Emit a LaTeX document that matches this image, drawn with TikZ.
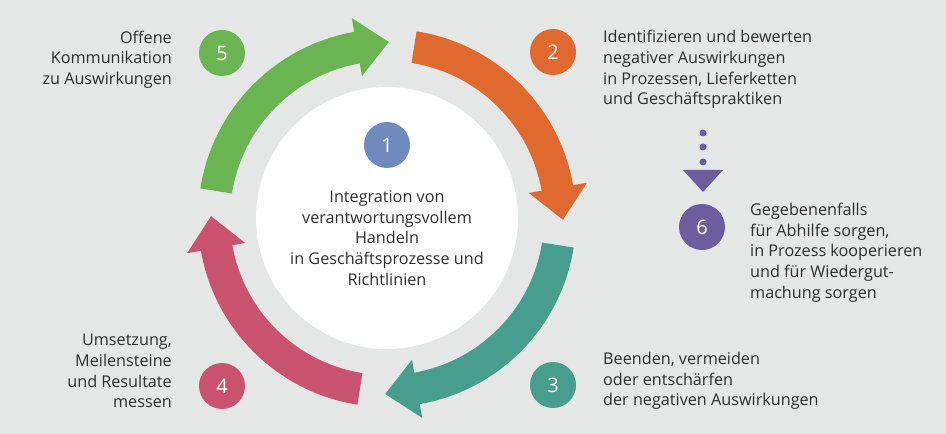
\documentclass[tikz,border=0pt]{standalone}
\usepackage{fontspec}
\setmainfont{Open Sans}
\definecolor{bgc}{HTML}{E5E6E6}
\definecolor{cgreen}{HTML}{6AB452}
\definecolor{corange}{HTML}{E0692F}
\definecolor{cteal}{HTML}{479D8E}
\definecolor{cpink}{HTML}{C9536F}
\definecolor{cblue}{HTML}{6F8BBE}
\definecolor{cpurple}{HTML}{6C5D9E}
\definecolor{ctext}{HTML}{2E2E2E}
\begin{document}
\begin{tikzpicture}[x=1pt,y=1pt,
  numc/.style={circle,fill=#1,minimum size=46pt,inner sep=0pt,text=white,font=\fontsize{20}{20}\selectfont},
  lbl/.style={inner sep=0pt,text=ctext,font=\fontsize{16.2}{20.7}\selectfont},
  lblL/.style={lbl,align=left,anchor=west},
  lblR/.style={lbl,align=right,anchor=east},
  dotc/.style={circle,fill=cpurple,minimum size=7pt,inner sep=0pt}]
\fill[bgc] (0,0) rectangle (946,434);
\useasboundingbox (0,0) rectangle (946,434);
\begin{scope}[shift={(387,216)}]
  \fill[white] (0,0) circle[radius=131];
  % arrows: tail angle t, head base b, tip b-10.6
  \foreach \t/\c in {81/corange,-9/cteal,-99/cpink,171/cgreen}{
    \pgfmathsetmacro{\b}{\t-71}
    \pgfmathsetmacro{\p}{\b-10.6}
    \fill[\c] (\t:189) arc[start angle=\t,end angle=\b,radius=189]
      -- (\b:203) -- (\p:176) -- (\b:144) -- (\b:157)
      arc[start angle=\b,end angle=\t,radius=157] -- cycle;
  }
\end{scope}
\node[numc=cblue] (n1) at (387,289) {1};
\node[numc=corange] (n2) at (553,382) {2};
\node[numc=cteal] (n3) at (553,49) {3};
\node[numc=cpink] (n4) at (222,48) {4};
\node[numc=cgreen] (n5) at (222,381) {5};
\node[numc=cpurple] (n6) at (702,207) {6};
\node[lbl,align=center] (t1) at (387,196) {Integration von\\verantwortungsvollem\\Handeln\\in Geschäftsprozesse und\\Richtlinien};
\node[lblL] (t2) at (603,364.5) {Identifizieren und bewerten\\negativer Auswirkungen\\in Prozessen, Lieferketten\\und Geschäftspraktiken};
\node[lblL] (t3) at (603,53) {Beenden, vermeiden\\oder entschärfen\\der negativen Auswirkungen};
\node[lblR] (t4) at (172,63) {Umsetzung,\\Meilensteine\\und Resultate\\messen};
\node[lblR] (t5) at (172,374.5) {Offene\\Kommunikation\\zu Auswirkungen};
\node[lblL] (t6) at (750,181.5) {Gegebenenfalls\\für Abhilfe sorgen,\\in Prozess kooperieren\\und für Wiedergut-\\machung sorgen};
\node[dotc] (d1) at (703,301) {};
\node[dotc] (d2) at (703,287) {};
\node[dotc] (d3) at (703,272) {};
\fill[cpurple] (683,264) -- (723,264) -- (703,242) -- cycle;
\end{tikzpicture}
\end{document}
